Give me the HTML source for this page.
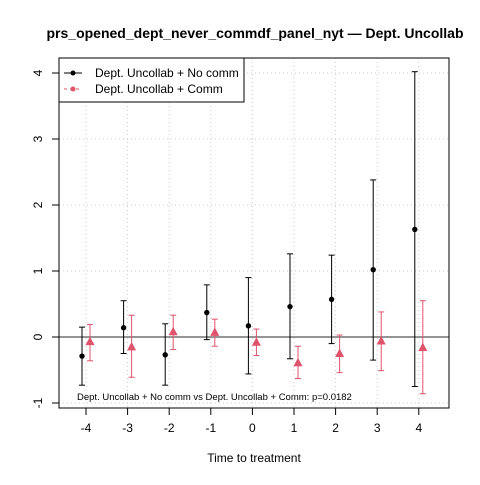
<!DOCTYPE html>
<html><head><meta charset="utf-8"><style>body{margin:0;background:#fff}svg{font-family:"Liberation Sans",sans-serif}</style></head><body>
<svg id="c" width="480" height="480" xmlns="http://www.w3.org/2000/svg">
<text x="255" y="38" text-anchor="middle" font-size="14" font-weight="bold">prs_opened_dept_never_commdf_panel_nyt — Dept. Uncollab</text>
<g id="grid"></g>
<line x1="59" x2="449" y1="337" y2="337" stroke="#555" stroke-width="1.3"/>
<g id="marks"></g>
<rect x="59" y="58" width="390" height="350" fill="none" stroke="#000"/>
<g id="axes"></g>
<text x="254" y="462" text-anchor="middle" font-size="12">Time to treatment</text>
<text x="77" y="400" font-size="9.5">Dept. Uncollab + No comm vs Dept. Uncollab + Comm: p=0.0182</text>
<g>
<rect x="59" y="58" width="185" height="44" fill="#fff" stroke="#000"/>
<line x1="64" x2="82" y1="73" y2="73" stroke="#000"/><circle cx="73" cy="73" r="2.5" fill="#000"/>
<text x="95" y="77" font-size="12">Dept. Uncollab + No comm</text>
<line x1="64" x2="82" y1="89" y2="89" stroke="#DF536B" stroke-dasharray="3,3"/><circle cx="73" cy="89" r="2.5" fill="#DF536B"/>
<text x="95" y="93" font-size="12">Dept. Uncollab + Comm</text>
</g>
</svg>
<script>
const periods=[-4,-3,-2,-1,0,1,2,3,4];
const yTicks=[-1,0,1,2,3,4];
const noCommEst=[-0.29,0.14,-0.27,0.37,0.17,0.46,0.57,1.02,1.63];
const noCommLo=[-0.73,-0.25,-0.73,-0.04,-0.56,-0.33,-0.1,-0.35,-0.75];
const noCommHi=[0.15,0.55,0.2,0.79,0.9,1.26,1.24,2.38,4.02];
const commEst=[-0.07,-0.15,0.08,0.07,-0.08,-0.39,-0.25,-0.06,-0.16];
const commLo=[-0.36,-0.61,-0.19,-0.14,-0.28,-0.63,-0.54,-0.51,-0.86];
const commHi=[0.19,0.33,0.33,0.27,0.12,-0.14,0.03,0.38,0.55];
const NS="http://www.w3.org/2000/svg";
const X=v=>86+(v+4)*41.6, Y=v=>337-v*66;
function mk(t,a,p){const e=document.createElementNS(NS,t);for(const k in a)e.setAttribute(k,a[k]);p.appendChild(e);return e;}
const grid=document.getElementById('grid'),axes=document.getElementById('axes'),marks=document.getElementById('marks');
periods.forEach(p=>{
 const g=mk('line',{x1:X(p),x2:X(p),y1:58,y2:408,stroke:'#ccc','stroke-dasharray':'1,3'},grid);
 
 
 const t=mk('line',{x1:X(p),x2:X(p),y1:408,y2:415,stroke:'#000'},axes);
 
 
 const l=mk('text',{x:X(p),y:432,'text-anchor':'middle','font-size':12},axes);l.textContent=p;
 
 
});
yTicks.forEach(v=>{
 const g=mk('line',{x1:59,x2:449,y1:Y(v),y2:Y(v),stroke:'#ccc','stroke-dasharray':'1,3'},grid);
 
 
 const t=mk('line',{x1:52,x2:59,y1:Y(v),y2:Y(v),stroke:'#000'},axes);
 
 
 const l=mk('text',{x:42,y:Y(v),'text-anchor':'middle','font-size':12,transform:`rotate(-90 42 ${Y(v)})`},axes);l.textContent=v;
 
 
});
function series(est,lo,hi,off,col,tri,name){
 periods.forEach((p,i)=>{
  const x=X(p)+off;
  const g=mk('g',{stroke:col,'stroke-width':1},marks);
  
  
  mk('line',{x1:x,x2:x,y1:Y(lo[i]),y2:Y(hi[i])},g);
  mk('line',{x1:x-3,x2:x+3,y1:Y(lo[i]),y2:Y(lo[i])},g);
  mk('line',{x1:x-3,x2:x+3,y1:Y(hi[i]),y2:Y(hi[i])},g);
  const y=Y(est[i]);let m;
  if(tri)m=mk('polygon',{points:`${x},${y-5} ${x-4.5},${y+3.5} ${x+4.5},${y+3.5}`,fill:col},marks);
  else m=mk('circle',{cx:x,cy:y,r:2.7,fill:col},marks);
  
  
 });
}
series(noCommEst,noCommLo,noCommHi,-4,'#000',false,'no-comm');
series(commEst,commLo,commHi,4,'#DF536B',true,'comm');
</script>
</body></html>
